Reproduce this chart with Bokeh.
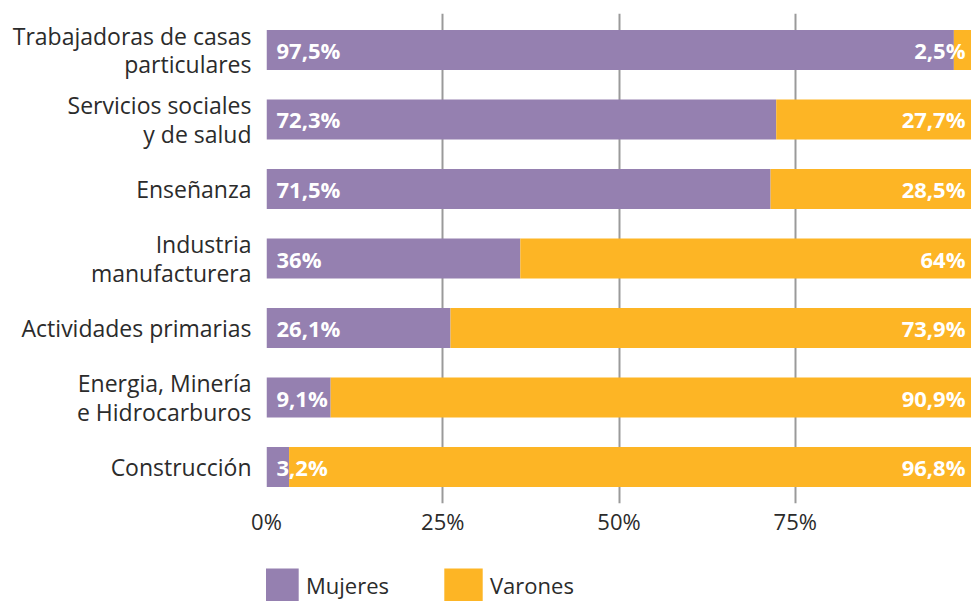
from bokeh.plotting import figure
from bokeh.layouts import column
from bokeh.models import ColumnDataSource, FixedTicker, Legend, LegendItem, FactorRange
from bokeh.core.properties import value
from bokeh.embed import file_html
from bokeh.resources import INLINE

categories = [
    "Trabajadoras de casas\nparticulares",
    "Servicios sociales\ny de salud",
    "Enseñanza",
    "Industria\nmanufacturera",
    "Actividades primarias",
    "Energia, Minería\ne Hidrocarburos",
    "Construcción",
]
mujeres = [97.5, 72.3, 71.5, 36, 26.1, 9.1, 3.2]
varones = [2.5, 27.7, 28.5, 64, 73.9, 90.9, 96.8]
x_ticks = [0, 25, 50, 75]
x_tick_labels = ["0%", "25%", "50%", "75%"]
series_names = ["Mujeres", "Varones"]
colors = ["#9580b0", "#fdb525"]


def fmt(v):
    return f"{v:g}".replace(".", ",") + "%"


source = ColumnDataSource(dict(
    cat=categories,
    Mujeres=mujeres,
    Varones=varones,
    m_lbl=[fmt(v) for v in mujeres],
    v_lbl=[fmt(v) for v in varones],
    zero=[0] * len(categories),
    full=[100] * len(categories),
))

p = figure(
    width=971, height=545,
    y_range=FactorRange(factors=list(reversed(categories)), range_padding=0.025,
                        range_padding_units="absolute"),
    x_range=(0, 100),
    output_backend="svg", toolbar_location=None,
    min_border_left=266, min_border_right=0, min_border_top=13, min_border_bottom=42,
)
p.outline_line_color = None
p.background_fill_color = "white"
p.border_fill_color = "white"

p.hbar_stack(series_names, y="cat", height=0.575, color=colors,
             line_color=None, source=source)

font = value("Open Sans")
p.text(x="zero", y="cat", text="m_lbl", source=source, x_offset=10,
       text_align="left", text_baseline="middle", text_color="white",
       text_font=font, text_font_style="bold", text_font_size="22px")
p.text(x="full", y="cat", text="v_lbl", source=source, x_offset=-6,
       text_align="right", text_baseline="middle", text_color="white",
       text_font=font, text_font_style="bold", text_font_size="22px")

# axes
p.xaxis.ticker = FixedTicker(ticks=x_ticks)
p.xaxis.major_label_overrides = {t: l for t, l in zip(x_ticks, x_tick_labels)}
p.xaxis.axis_line_color = None
p.xaxis.major_tick_line_color = None
p.xaxis.major_tick_out = 0
p.xaxis.major_tick_in = 0
p.xaxis.minor_tick_line_color = None
p.xaxis.major_label_text_font = "Open Sans"
p.xaxis.major_label_text_font_size = "22px"
p.xaxis.major_label_text_color = "#2b2b2b"
p.xaxis.major_label_standoff = 2

p.yaxis.axis_line_color = None
p.yaxis.major_tick_line_color = None
p.yaxis.major_tick_out = 0
p.yaxis.major_tick_in = 0
p.yaxis.major_label_standoff = 15
p.yaxis.major_label_text_font = "Open Sans"
p.yaxis.major_label_text_font_size = "23px"
p.yaxis.major_label_text_color = "#2b2b2b"
p.yaxis.major_label_text_line_height = 0.9

p.xgrid.grid_line_color = "#9a9a9a"
p.xgrid.grid_line_width = 2
p.ygrid.grid_line_color = None

# legend strip below the chart (swatch renderers sit outside the visible range)
pl = figure(
    width=971, height=56, x_range=(0, 1), y_range=(0, 1),
    x_axis_type=None, y_axis_type=None,
    output_backend="svg", toolbar_location=None,
    min_border_left=0, min_border_right=0, min_border_top=0, min_border_bottom=0,
)
pl.outline_line_color = None
pl.grid.grid_line_color = None
swatches = [pl.hbar(y=[-5], left=[0], right=[0], height=1, color=c, line_color=None)
            for c in colors]

legend = Legend(
    items=[LegendItem(label=n, renderers=[r]) for n, r in zip(series_names, swatches)],
    location=(-11, -4), orientation="horizontal",
    glyph_width=48, glyph_height=41, label_standoff=3, label_width=125, spacing=8,
    padding=0, margin=0, border_line_color=None, background_fill_alpha=0,
    label_text_font="Open Sans", label_text_font_size="22px", label_text_color="#2b2b2b",
)
pl.add_layout(legend, "center")

layout = column(p, pl, spacing=0)
open("out.html", "w").write(file_html(layout, INLINE))
